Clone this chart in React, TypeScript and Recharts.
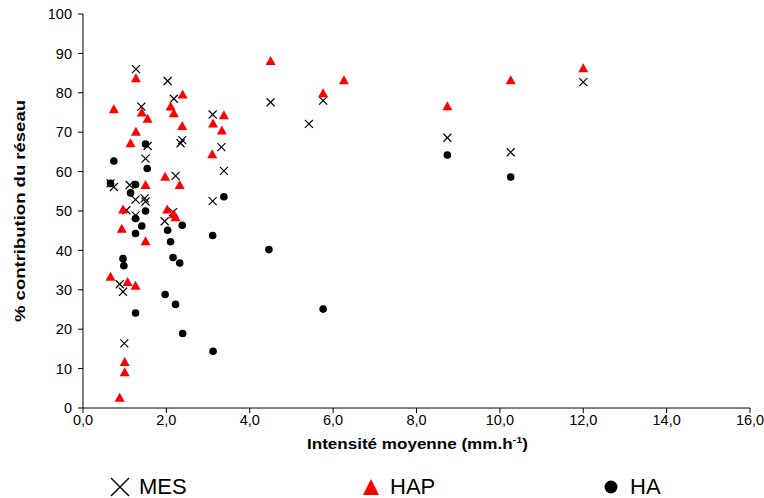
import React from "react";
import { ScatterChart, Scatter, XAxis, YAxis } from "recharts";

// MES (crosses)
const mesX = [1.27, 2.03, 2.18, 1.40, 3.11, 2.38, 2.34, 3.32, 1.55, 1.50, 3.38, 2.22, 0.66, 0.74, 1.12, 1.48, 1.50, 1.26, 3.11, 1.04, 2.16, 1.26, 1.96, 0.88, 0.96, 0.99, 4.50, 5.76, 5.42, 8.74, 10.26, 12.0];
const mesY = [86.0, 83.0, 78.5, 76.5, 74.5, 68.0, 67.2, 66.2, 66.5, 63.3, 60.2, 58.9, 57.0, 56.1, 56.6, 53.2, 52.4, 52.9, 52.5, 50.2, 49.7, 48.9, 47.4, 31.4, 29.5, 16.4, 77.6, 78.0, 72.1, 68.6, 64.9, 82.7];

// HAP (triangles)
const hapX = [1.27, 2.39, 0.74, 1.41, 1.55, 2.10, 2.18, 2.38, 3.12, 3.38, 3.33, 1.27, 1.14, 3.10, 1.97, 2.32, 1.50, 0.96, 2.02, 2.18, 2.22, 0.93, 1.50, 0.66, 1.07, 1.26, 1.00, 1.00, 0.88, 4.50, 6.26, 5.76, 8.74, 10.26, 12.0];
const hapY = [83.7, 79.6, 75.8, 75.0, 73.4, 76.5, 74.8, 71.6, 72.2, 74.3, 70.4, 70.1, 67.2, 64.4, 58.7, 56.6, 56.6, 50.4, 50.4, 49.2, 48.4, 45.5, 42.3, 33.3, 32.0, 31.0, 11.7, 9.1, 2.6, 88.1, 83.2, 79.9, 76.6, 83.2, 86.2];

// HA (circles)
const haX = [1.50, 0.74, 1.54, 0.66, 1.26, 1.14, 1.50, 1.26, 3.38, 2.38, 1.41, 2.03, 1.26, 3.11, 2.10, 0.96, 0.98, 2.16, 2.32, 4.46, 1.97, 2.22, 1.26, 2.39, 3.12, 5.76, 8.74, 10.26];
const haY = [67.0, 62.7, 60.8, 57.0, 56.7, 54.6, 50.0, 48.1, 53.6, 46.4, 46.2, 45.1, 44.3, 43.8, 42.2, 37.9, 36.1, 38.2, 36.8, 40.2, 28.8, 26.3, 24.1, 18.9, 14.4, 25.1, 64.2, 58.6];

const xTicks = [0, 2, 4, 6, 8, 10, 12, 14, 16];
const yTicks = [0, 10, 20, 30, 40, 50, 60, 70, 80, 90, 100];

const zip = (xs: number[], ys: number[]) => xs.map((x, i) => ({ x, y: ys[i] }));
const mesData = zip(mesX, mesY);
const hapData = zip(hapX, hapY);
const haData = zip(haX, haY);

const FONT = "'Liberation Sans', Arial, sans-serif";

const Cross = (p: any) => {
  const { cx, cy } = p;
  const s = 4;
  return (
    <g>
      <line x1={cx - s} y1={cy - s} x2={cx + s} y2={cy + s} stroke="#000" strokeWidth={1.2} />
      <line x1={cx - s} y1={cy + s} x2={cx + s} y2={cy - s} stroke="#000" strokeWidth={1.2} />
    </g>
  );
};

const Tri = (p: any) => {
  const { cx, cy } = p;
  return <polygon points={`${cx},${cy - 5} ${cx + 5},${cy + 4} ${cx - 5},${cy + 4}`} fill="#ff0000" />;
};

const Dot = (p: any) => {
  const { cx, cy } = p;
  return <circle cx={cx} cy={cy} r={3.8} fill="#000" />;
};

const fmt = (v: number) => v.toFixed(1).replace(".", ",");

const legendItems = [
  { name: "MES", kind: "cross", x: 109 },
  { name: "HAP", kind: "tri", x: 360 },
  { name: "HA", kind: "dot", x: 600 },
];

export default function App() {
  return (
    <div style={{ position: "absolute", left: 0, top: 0, width: 764, height: 498, background: "#fff", fontFamily: FONT, overflow: "hidden" }}>
      <ScatterChart width={764} height={498} margin={{ top: 14, right: 14, bottom: 50, left: 0 }}>
        <XAxis
          type="number"
          dataKey="x"
          domain={[0, 16]}
          ticks={xTicks}
          tickFormatter={fmt}
          height={40}
          axisLine={{ stroke: "#000" }}
          tickLine={{ stroke: "#000" }}
          tickSize={5}
          tick={{ fill: "#000", fontSize: 14.5, fontFamily: FONT }}
          interval={0}
          label={{
            content: () => (
              <text x={417.5} y={449} textAnchor="middle" fontFamily={FONT} fontWeight="bold" fontSize={14} fill="#000" textLength={221} lengthAdjust="spacingAndGlyphs">
                Intensité moyenne (mm.h<tspan dy={-6} fontSize={9}>-1</tspan><tspan dy={6}>)</tspan>
              </text>
            ),
          }}
        />
        <YAxis
          type="number"
          dataKey="y"
          domain={[0, 100]}
          ticks={yTicks}
          width={83}
          axisLine={{ stroke: "#000" }}
          tickLine={{ stroke: "#000" }}
          tickSize={5}
          tickMargin={6}
          tick={{ fill: "#000", fontSize: 14.5, fontFamily: FONT }}
          interval={0}
          label={{
            content: () => (
              <text x={25} y={211} transform="rotate(-90, 25, 211)" textAnchor="middle" fontFamily={FONT} fontWeight="bold" fontSize={15} fill="#000" textLength={222} lengthAdjust="spacingAndGlyphs">
                % contribution du réseau
              </text>
            ),
          }}
        />
        <Scatter name="MES" data={mesData} shape={Cross} isAnimationActive={false} />
        <Scatter name="HAP" data={hapData} shape={Tri} isAnimationActive={false} />
        <Scatter name="HA" data={haData} shape={Dot} isAnimationActive={false} />
      </ScatterChart>
      {legendItems.map((it) => (
        <div key={it.name} style={{ position: "absolute", left: it.x, top: 476, display: "flex", alignItems: "center", height: 22 }}>
          <svg width={22} height={22} style={{ marginRight: 8 }}>
            {it.kind === "cross" && (
              <g>
                <line x1={2} y1={2} x2={20} y2={20} stroke="#000" strokeWidth={1.5} />
                <line x1={2} y1={20} x2={20} y2={2} stroke="#000" strokeWidth={1.5} />
              </g>
            )}
            {it.kind === "tri" && <polygon points="11,3 19,19 3,19" fill="#ff0000" />}
            {it.kind === "dot" && <circle cx={11} cy={11} r={6.5} fill="#000" />}
          </svg>
          <span style={{ fontSize: 22, fontFamily: FONT, color: "#000", lineHeight: "22px" }}>{it.name}</span>
        </div>
      ))}
    </div>
  );
}
